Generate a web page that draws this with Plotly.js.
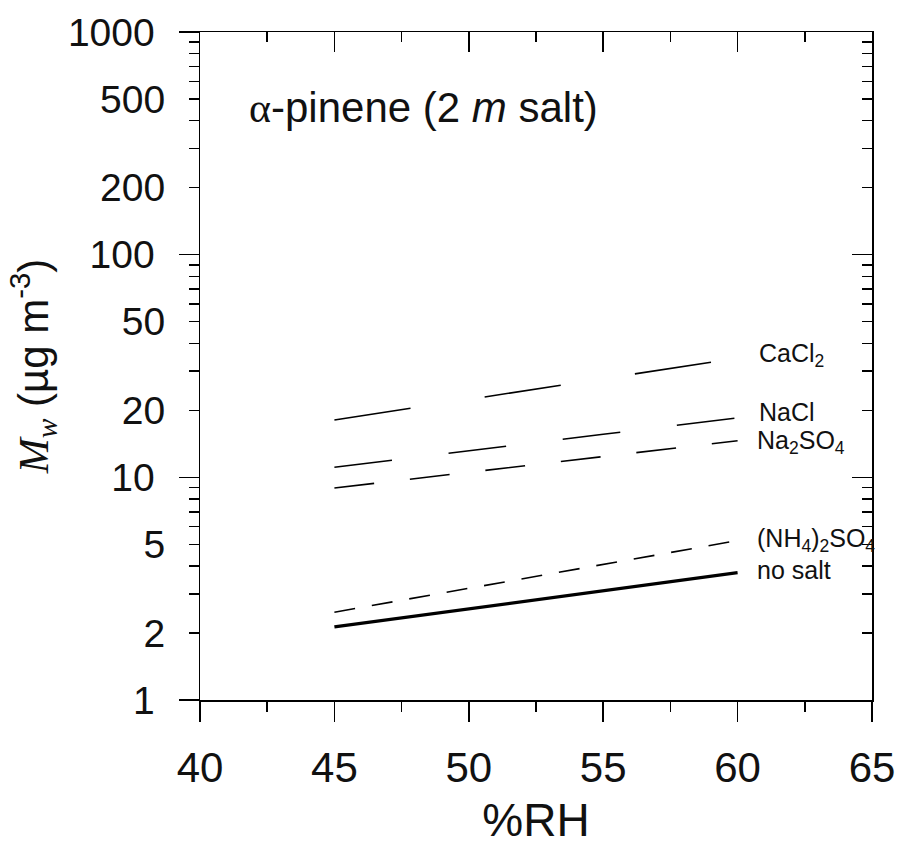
<!DOCTYPE html>
<html>
<head>
<meta charset="utf-8">
<script src="https://cdn.plot.ly/plotly-3.0.1.min.js"></script>
<style>html,body{margin:0;padding:0;background:#fff;}#chart{width:898px;height:854px;}</style>
</head>
<body>
<div id="chart"></div>
<script>
// Data
const rh = [45, 50, 55, 60];
const caCl2 = [18.1, 22.4, 27.7, 34.3];
const naCl = [11.1, 13.2, 15.6, 18.5];
const na2SO4 = [8.95, 10.5, 12.4, 14.6];
const nh4SO4 = [2.48, 3.17, 4.05, 5.2];
const noSalt = [2.13, 2.57, 3.09, 3.73];

const seriesNames = ['CaCl<sub>2</sub>', 'NaCl', 'Na<sub>2</sub>SO<sub>4</sub>', '(NH<sub>4</sub>)<sub>2</sub>SO<sub>4</sub>', 'no salt'];
const xTickVals = [40, 45, 50, 55, 60, 65];
const yDecadeVals = [1, 10, 100, 1000];
const yMidVals = [2, 5, 20, 50, 200, 500];
const yMinorVals = [2,3,4,5,6,7,8,9,20,30,40,50,60,70,80,90,200,300,400,500,600,700,800,900];

const F = 'Liberation Sans, Arial, sans-serif';

function line(y, name, dash, width) {
  return {x: rh, y: y, name: name, type: 'scatter', mode: 'lines',
          line: {color: '#000', width: width, dash: dash}, showlegend: false, hoverinfo: 'skip'};
}

const traces = [
  line(caCl2, seriesNames[0], '77px,75px', 1.6),
  line(naCl, seriesNames[1], '58px,57px', 1.6),
  line(na2SO4, seriesNames[2], '40px,36px', 1.6),
  line(nh4SO4, seriesNames[3], '21px,17px', 1.6),
  line(noSalt, seriesNames[4], 'solid', 3.2)
];

const labelFont = {family: F, size: 25, color: '#111'};
function lab(text, x, ylog) {
  return {text: text, x: x, y: ylog, xref: 'x', yref: 'y', xanchor: 'left', yanchor: 'middle',
          showarrow: false, font: labelFont};
}

const layout = {
  width: 898, height: 854,
  margin: {l: 200, r: 26, t: 32, b: 154},
  paper_bgcolor: '#fff', plot_bgcolor: '#fff',
  showlegend: false,
  xaxis: {
    range: [40, 65], tickmode: 'array', tickvals: xTickVals,
    ticks: 'outside', ticklen: 20, tickwidth: 1.5, tickcolor: '#000',
    minor: {tickmode: 'linear', tick0: 40, dtick: 2.5, ticks: 'outside', ticklen: 10, tickwidth: 1.5, tickcolor: '#000'},
    showline: true, linecolor: '#000', linewidth: 1.5, showgrid: false, zeroline: false,
    tickfont: {family: F, size: 42, color: '#111'}, ticklabelstandoff: 10,
    title: {text: '%RH', font: {family: F, size: 46, color: '#111'}, standoff: 14},
    fixedrange: true
  },
  xaxis2: {
    overlaying: 'x', side: 'top', anchor: 'y', range: [40, 65], tickmode: 'array', tickvals: xTickVals,
    ticks: 'inside', ticklen: 20, tickwidth: 1.5, tickcolor: '#000',
    minor: {tickmode: 'linear', tick0: 40, dtick: 2.5, ticks: 'inside', ticklen: 10, tickwidth: 1.5, tickcolor: '#000'},
    showline: true, linecolor: '#000', linewidth: 1.5, showgrid: false, zeroline: false,
    showticklabels: false, fixedrange: true
  },
  yaxis: {
    type: 'log', range: [0, 3], tickmode: 'array', tickvals: yDecadeVals, ticktext: yDecadeVals.map(String),
    ticks: 'outside', ticklen: 20, tickwidth: 1.5, tickcolor: '#000',
    minor: {tickmode: 'array', tickvals: yMinorVals, ticks: 'outside', ticklen: 10, tickwidth: 1.5, tickcolor: '#000'},
    showline: true, linecolor: '#000', linewidth: 1.5, showgrid: false, zeroline: false,
    tickfont: {family: F, size: 39, color: '#111'}, ticklabelstandoff: 16,
    title: {text: '<span style="font-family:Liberation Serif"><i>M</i><sub><i>w</i></sub></span> (µg m<sup>-3</sup>)',
            font: {family: F, size: 42, color: '#111'}, standoff: 6},
    fixedrange: true
  },
  yaxis3: {
    overlaying: 'y', side: 'left', anchor: 'x', type: 'log', range: [0, 3], tickmode: 'array',
    tickvals: yMidVals, ticktext: yMidVals.map(String),
    ticks: 'outside', ticklen: 10, tickwidth: 1.5, tickcolor: '#000',
    showline: false, showgrid: false, zeroline: false,
    tickfont: {family: F, size: 39, color: '#111'}, ticklabelstandoff: 16, fixedrange: true
  },
  yaxis2: {
    overlaying: 'y', side: 'right', anchor: 'x', type: 'log', range: [0, 3], tickmode: 'array',
    tickvals: yDecadeVals, ticks: 'inside', ticklen: 20, tickwidth: 1.5, tickcolor: '#000',
    minor: {tickmode: 'array', tickvals: yMinorVals, ticks: 'inside', ticklen: 10, tickwidth: 1.5, tickcolor: '#000'},
    showline: true, linecolor: '#000', linewidth: 1.5, showgrid: false, zeroline: false,
    showticklabels: false, fixedrange: true
  },
  annotations: [
    {text: '<span style="font-family:Liberation Serif">α</span>-pinene (2 <i>m</i> salt)',
     x: 41.75, y: 2.663, xref: 'x', yref: 'y', xanchor: 'left', yanchor: 'middle', showarrow: false,
     font: {family: F, size: 42, color: '#111'}},
    lab(seriesNames[0], 60.72, 1.549),
    lab(seriesNames[1], 60.72, 1.294),
    lab(seriesNames[2], 60.65, 1.160),
    lab(seriesNames[3], 60.65, 0.718),
    lab(seriesNames[4], 60.65, 0.584)
  ]
};

// attach invisible traces to helper axes so they render
traces.push({x: [40], y: [1], xaxis: 'x2', yaxis: 'y', mode: 'markers', marker: {opacity: 0}, showlegend: false, hoverinfo: 'skip'});
traces.push({x: [40], y: [1], xaxis: 'x', yaxis: 'y2', mode: 'markers', marker: {opacity: 0}, showlegend: false, hoverinfo: 'skip'});
traces.push({x: [40], y: [1], xaxis: 'x', yaxis: 'y3', mode: 'markers', marker: {opacity: 0}, showlegend: false, hoverinfo: 'skip'});

Plotly.newPlot('chart', traces, layout, {staticPlot: true, displayModeBar: false});
</script>
</body>
</html>
